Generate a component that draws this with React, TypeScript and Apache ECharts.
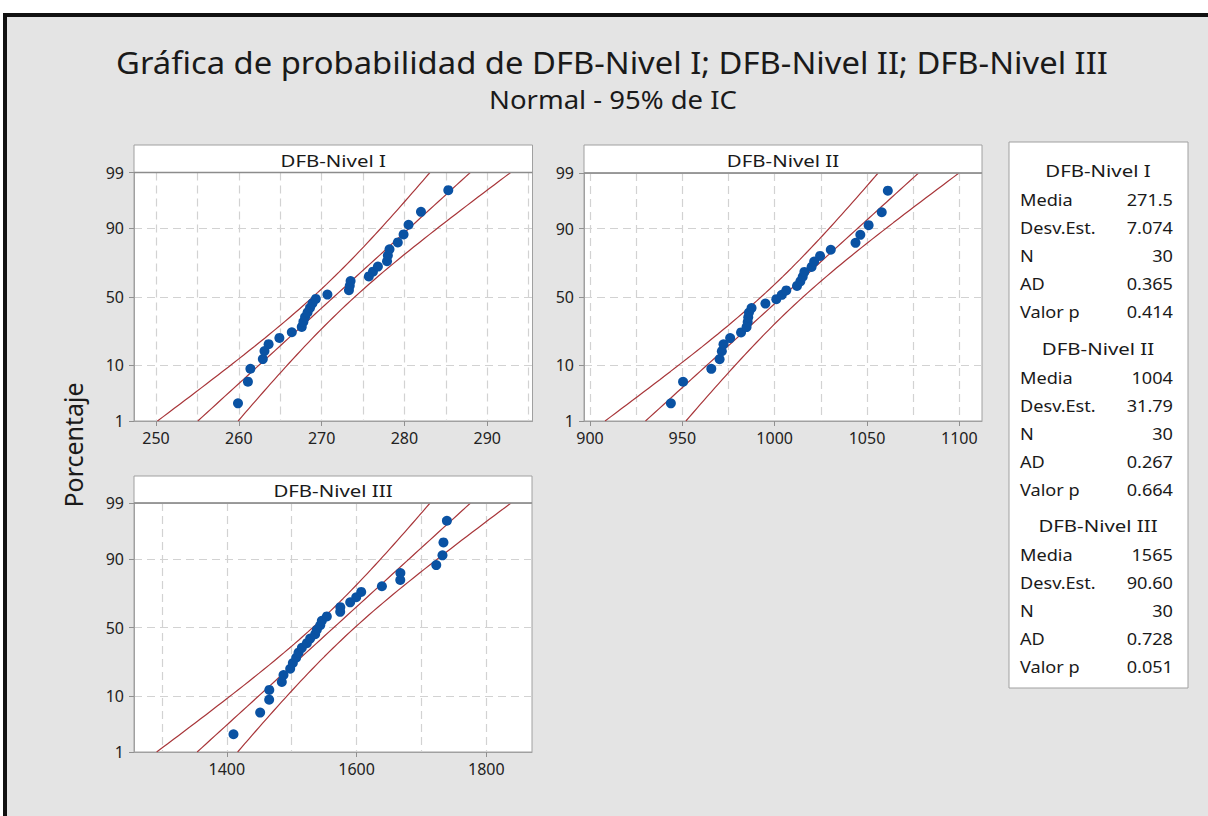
import React, { useEffect, useRef } from 'react';
import * as echarts from 'echarts';

// ---------------- data ----------------
const panelNames = ['DFB-Nivel I', 'DFB-Nivel II', 'DFB-Nivel III'];

const nivelI = [
  259.9, 261.1, 261.4, 262.9, 263.1, 263.6, 264.9, 266.4, 267.6, 267.8,
  268.0, 268.3, 268.6, 268.9, 269.3, 270.7, 273.3, 273.4, 273.5, 275.7,
  276.2, 276.8, 277.9, 278.0, 278.2, 279.2, 279.9, 280.5, 282.0, 285.3,
];
const nivelII = [
  943.8, 950.4, 965.7, 970.2, 971.4, 972.3, 975.9, 981.8, 984.8, 985.4,
  985.7, 986.1, 987.5, 995.0, 1000.9, 1003.9, 1006.3, 1012.1, 1013.9, 1015.2,
  1016.1, 1020.0, 1021.4, 1024.6, 1030.4, 1043.8, 1046.4, 1050.9, 1058.0, 1061.3,
];
const nivelIII = [
  1410.3, 1451.4, 1465.3, 1465.5, 1484.8, 1487.4, 1497.7, 1501.8, 1506.9, 1510.5,
  1515.7, 1523.4, 1528.5, 1536.2, 1538.8, 1544.0, 1546.5, 1554.2, 1574.8, 1575.0,
  1590.2, 1599.5, 1607.2, 1639.1, 1667.4, 1667.6, 1722.9, 1732.5, 1734.0, 1739.3,
];
const panelData = [nivelI, nivelII, nivelIII];

const means = [271.5, 1004, 1565];
const stdDevs = [7.074, 31.79, 90.6];
const nValues = [30, 30, 30];
const adValues = [0.365, 0.267, 0.728];
const pValues = [0.414, 0.664, 0.051];
const statLabels = ['Media', 'Desv.Est.', 'N', 'AD', 'Valor p'];

const percentTicks = [1, 10, 50, 90, 99];
const xLabelTicks = [
  [250, 260, 270, 280, 290],
  [900, 950, 1000, 1050, 1100],
  [1400, 1600, 1800],
];
const xGridTicks = [
  [250, 255, 260, 265, 270, 275, 280, 285, 290, 295],
  [900, 925, 950, 975, 1000, 1025, 1050, 1075, 1100],
  [1300, 1400, 1500, 1600, 1700, 1800],
];
const xRanges = [
  [247.34, 295.47],
  [896.75, 1112.3],
  [1256.9, 1870.5],
];

// ---------------- helpers ----------------
function probit(p: number): number {
  const a = [-3.969683028665376e1, 2.209460984245205e2, -2.759285104469687e2, 1.38357751867269e2, -3.066479806614716e1, 2.506628277459239];
  const b = [-5.447609879822406e1, 1.615858368580409e2, -1.556989798598866e2, 6.680131188771972e1, -1.328068155288572e1];
  const c = [-7.784894002430293e-3, -3.223964580411365e-1, -2.400758277161838, -2.549732539343734, 4.374664141464968, 2.938163982698783];
  const d = [7.784695709041462e-3, 3.224671290700398e-1, 2.445134137142996, 3.754408661907416];
  const plow = 0.02425;
  if (p < plow) {
    const q = Math.sqrt(-2 * Math.log(p));
    return (((((c[0] * q + c[1]) * q + c[2]) * q + c[3]) * q + c[4]) * q + c[5]) /
      ((((d[0] * q + d[1]) * q + d[2]) * q + d[3]) * q + 1);
  }
  if (p <= 1 - plow) {
    const q = p - 0.5;
    const r = q * q;
    return ((((((a[0] * r + a[1]) * r + a[2]) * r + a[3]) * r + a[4]) * r + a[5]) * q) /
      (((((b[0] * r + b[1]) * r + b[2]) * r + b[3]) * r + b[4]) * r + 1);
  }
  const q = Math.sqrt(-2 * Math.log(1 - p));
  return -(((((c[0] * q + c[1]) * q + c[2]) * q + c[3]) * q + c[4]) * q + c[5]) /
    ((((d[0] * q + d[1]) * q + d[2]) * q + d[3]) * q + 1);
}

const FONT = 'Noto Sans';
const zMin = probit(0.01);
const zMax = probit(0.99);
const zTicks = percentTicks.map((p) => probit(p / 100));

const grids = [
  { left: 134, top: 172.5, width: 398.5, height: 248.5 },
  { left: 584, top: 173, width: 398, height: 248 },
  { left: 134, top: 503, width: 398, height: 249 },
];
const headerTops = [145, 145, 476];

function txt(x: number, y: number, text: string, fontSize: number, align: string, scaleX = 1, extra: any = {}) {
  return {
    type: 'text', z: 12, x, y, scaleX, silent: true, ...extra,
    style: { text, fontSize, fontFamily: FONT, fill: '#1a1a1a', align, verticalAlign: 'middle' },
  };
}

function buildOption() {
  const xAxes: any[] = [];
  const yAxes: any[] = [];
  const series: any[] = [];
  const graphics: any[] = [];

  // background frame
  graphics.push(
    { type: 'rect', z: -10, shape: { x: 0, y: 0, width: 1208, height: 816 }, style: { fill: '#ffffff' }, silent: true },
    { type: 'rect', z: -10, shape: { x: 3, y: 13, width: 1205, height: 803 }, style: { fill: '#111111' }, silent: true },
    { type: 'rect', z: -10, shape: { x: 7, y: 17, width: 1201, height: 799 }, style: { fill: '#e4e4e4' }, silent: true },
  );

  panelNames.forEach((name, k) => {
    const g = grids[k];
    const [xmin, xmax] = xRanges[k];
    const gridLineStyle = { color: '#d2d2d2', type: [8, 5], width: 1.2 };

    xAxes.push({
      type: 'value', gridIndex: k, min: xmin, max: xmax, position: 'bottom',
      axisLine: { show: true, onZero: false, lineStyle: { color: '#a0a0a0' } },
      axisTick: { show: true, length: 5, lineStyle: { color: '#909090' }, customValues: xLabelTicks[k] },
      axisLabel: {
        customValues: xLabelTicks[k], fontSize: 16, color: '#222', fontFamily: FONT, margin: 9,
        formatter: (v: number) => String(Math.round(v)),
      },
      splitLine: { show: false },
    });
    xAxes.push({
      type: 'value', gridIndex: k, min: xmin, max: xmax, position: 'bottom',
      axisLine: { show: false, onZero: false },
      axisTick: { show: false, customValues: xGridTicks[k] },
      axisLabel: { show: false, customValues: xGridTicks[k] },
      splitLine: { show: true, lineStyle: gridLineStyle },
    });
    yAxes.push({
      type: 'value', gridIndex: k, min: zMin, max: zMax,
      axisLine: { show: true, onZero: false, lineStyle: { color: '#a0a0a0' } },
      axisTick: { show: true, length: 5, lineStyle: { color: '#909090' }, customValues: zTicks },
      axisLabel: {
        customValues: zTicks, fontSize: 16, color: '#222', fontFamily: FONT, margin: 10,
        formatter: (v: number) => {
          const idx = zTicks.findIndex((z) => Math.abs(z - v) < 1e-6);
          return idx >= 0 ? String(percentTicks[idx]) : '';
        },
      },
      splitLine: { show: true, lineStyle: gridLineStyle },
    });

    const vals = panelData[k];
    const n = vals.length;
    series.push({
      type: 'scatter', xAxisIndex: 2 * k, yAxisIndex: k, z: 5,
      symbol: 'circle', symbolSize: 10,
      itemStyle: { color: '#0a52a3', opacity: 1 },
      data: vals.map((v, i) => [v, probit((i + 1 - 0.3) / (n + 0.4))]),
    });

    const mu = means[k];
    const sd = stdDevs[k];
    const nn = nValues[k];
    const zs: number[] = [];
    for (let j = 0; j <= 60; j++) zs.push(zMin + ((zMax - zMin) * j) / 60);
    const fit = zs.map((z) => [mu + sd * z, z]);
    const lo = zs.map((z) => [mu + sd * z - 1.96 * sd * Math.sqrt((1 + (z * z) / 2) / nn), z]);
    const hi = zs.map((z) => [mu + sd * z + 1.96 * sd * Math.sqrt((1 + (z * z) / 2) / nn), z]);
    [fit, lo, hi].forEach((d) => {
      series.push({
        type: 'line', xAxisIndex: 2 * k, yAxisIndex: k, z: 3,
        showSymbol: false, symbol: 'none', smooth: false, silent: true,
        lineStyle: { color: '#a8363a', width: 1.2 },
        data: d,
      });
    });

    // header strip
    const ht = headerTops[k];
    graphics.push({
      type: 'rect', z: 10,
      shape: { x: g.left, y: ht, width: g.width, height: g.top - ht },
      style: { fill: '#ffffff', stroke: '#a0a0a0', lineWidth: 1 },
      silent: true,
    });
    graphics.push({
      type: 'line', z: 11,
      shape: { x1: g.left, y1: g.top, x2: g.left + g.width, y2: g.top },
      style: { stroke: '#8c8c8c', lineWidth: 1.5 },
      silent: true,
    });
    graphics.push(txt(g.left + g.width / 2, (ht + g.top) / 2 + 1, name, 17, 'center', 1.2));
  });

  // title and subtitle
  graphics.push(
    txt(612, 62, 'Gráfica de probabilidad de DFB-Nivel I; DFB-Nivel II; DFB-Nivel III', 30, 'center', 1.093),
    txt(613, 99, 'Normal - 95% de IC', 25, 'center', 1.1),
    txt(73, 445, 'Porcentaje', 25, 'center', 1, { rotation: Math.PI / 2 }),
  );

  // statistics box
  graphics.push({
    type: 'rect', z: 10,
    shape: { x: 1009, y: 142, width: 179, height: 546 },
    style: { fill: '#ffffff', stroke: '#a0a0a0', lineWidth: 1 },
    silent: true,
  });
  const blockTops = [170, 348, 525];
  panelNames.forEach((name, k) => {
    const y0 = blockTops[k];
    graphics.push(txt(1098, y0, name, 17, 'center', 1.2));
    const texts = [
      means[k].toPrecision(4),
      stdDevs[k].toPrecision(4),
      String(nValues[k]),
      adValues[k].toFixed(3),
      pValues[k].toFixed(3),
    ];
    statLabels.forEach((lab, r) => {
      const y = y0 + 29 + r * 28.2;
      graphics.push(txt(1020, y, lab, 16.5, 'left', 1.1));
      graphics.push(txt(1173, y, texts[r], 16.5, 'right', 1.1));
    });
  });

  return {
    animation: false,
    backgroundColor: '#e4e4e4',
    textStyle: { fontFamily: FONT },
    grid: grids.map((g) => ({ ...g, show: true, backgroundColor: '#ffffff', borderColor: '#a0a0a0', borderWidth: 1, containLabel: false })),
    xAxis: xAxes,
    yAxis: yAxes,
    series,
    graphic: { elements: graphics },
  };
}

export default function App() {
  const ref = useRef<HTMLDivElement>(null);
  useEffect(() => {
    document.body.style.margin = '0';
    if (!ref.current) return;
    const chart = echarts.init(ref.current, null, { renderer: 'svg' });
    chart.setOption(buildOption() as any);
    return () => chart.dispose();
  }, []);
  return <div ref={ref} style={{ width: 1208, height: 816 }} />;
}
